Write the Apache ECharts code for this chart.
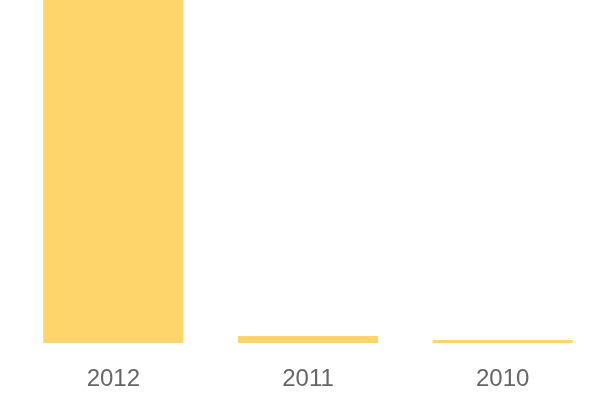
<!DOCTYPE html>
<html><head><meta charset="utf-8">
<script src="https://cdn.jsdelivr.net/npm/echarts@6/dist/echarts.min.js"></script>
<style>html,body{margin:0;padding:0;background:#fff}#c{width:600px;height:400px}</style>
</head><body><div id="c"></div>
<script>
const categories = ['2012', '2011', '2010'];
const values = [100, 2.04, 0.9];

const chart = echarts.init(document.getElementById('c'));
chart.setOption({
  animation: false,
  grid: { left: 16, right: 0, top: 0, bottom: 57 },
  xAxis: {
    type: 'category',
    data: categories,
    axisLine: { show: false },
    axisTick: { show: false },
    axisLabel: { color: '#666', fontSize: 24, margin: 24, fontFamily: 'Liberation Sans, Arial, sans-serif' }
  },
  yAxis: {
    type: 'value', min: 0, max: 100,
    show: false,
    splitLine: { show: false }
  },
  series: [{
    type: 'bar',
    data: values,
    barWidth: '72%',
    itemStyle: { color: '#fed56b' }
  }]
});
</script></body></html>
